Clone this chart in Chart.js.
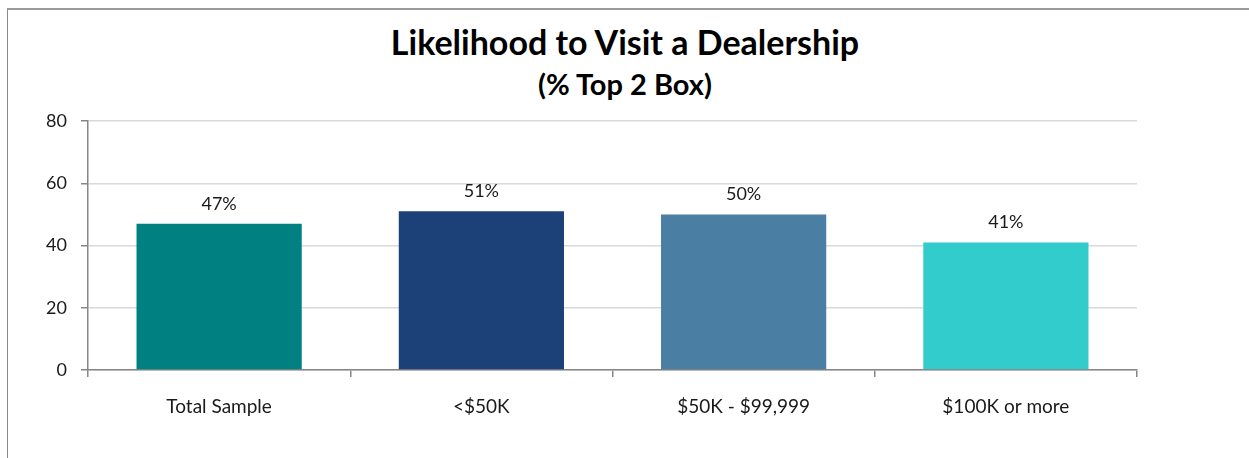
<!DOCTYPE html>
<html>
<head>
<meta charset="utf-8">
<script src="https://cdn.jsdelivr.net/npm/chart.js@4/dist/chart.umd.min.js"></script>
<style>
    body { margin: 0; background: #fff; width: 1249px; height: 458px; overflow: hidden; position: relative; font-family: Lato, sans-serif; }
    .frame { position: absolute; left: 7px; top: 8px; width: 1300px; height: 500px; border-left: 1px solid #8a8a8a; border-top: 2px solid #9a9a9a; }
    .titles { position: absolute; left: 0; width: 1250px; text-align: center; color: #000; font-weight: bold; }
    #title { top: 22px; font-size: 34px; line-height: 1.2; }
    #subtitle { top: 67px; font-size: 29px; line-height: 1.2; }
    canvas { position: absolute; left: 0; top: 0; }
</style>
</head>
<body>
<div class="frame"></div>
<div class="titles" id="title">Likelihood to Visit a Dealership</div>
<div class="titles" id="subtitle">(% Top 2 Box)</div>
<canvas id="visitChart" width="1249" height="458"></canvas>
<script>
const categories = ['Total Sample', '<$50K', '$50K - $99,999', '$100K or more'];
const top2Box = [47, 51, 50, 41];
const barColors = ['#008080', '#1c4178', '#4a7fa3', '#33cccc'];
const yTicks = [0, 20, 40, 60, 80];

const axisGray = '#868686';
const gridGray = '#d9d9d9';

// percent labels above each bar
const valueLabels = {
    id: 'valueLabels',
    afterDatasetsDraw(chart) {
        const ctx = chart.ctx;
        const meta = chart.getDatasetMeta(0);
        ctx.save();
        ctx.font = '18px Lato';
        ctx.fillStyle = '#1a1a1a';
        ctx.textAlign = 'center';
        ctx.textBaseline = 'alphabetic';
        meta.data.forEach((bar, i) => {
            ctx.fillText(top2Box[i] + '%', bar.x, bar.y - 14);
        });
        ctx.restore();
    }
};

const ctx = document.getElementById('visitChart').getContext('2d');
new Chart(ctx, {
    type: 'bar',
    data: {
        labels: categories,
        datasets: [{
            data: top2Box,
            backgroundColor: barColors,
            borderWidth: 0,
            categoryPercentage: 1,
            barPercentage: 0.63
        }]
    },
    options: {
        responsive: false,
        devicePixelRatio: 1,
        animation: false,
        layout: { padding: { left: 20, right: 112, top: 121, bottom: 40 } },
        plugins: {
            legend: { display: false },
            tooltip: { enabled: false }
        },
        scales: {
            x: {
                grid: {
                    offset: true,
                    drawOnChartArea: false,
                    tickLength: 7,
                    tickColor: axisGray,
                    lineWidth: 1.5
                },
                border: { color: axisGray, width: 1.5 },
                ticks: {
                    padding: 18,
                    color: '#1a1a1a',
                    font: { family: 'Lato', size: 19 }
                },
                afterFit(scale) { scale.height = 48; }
            },
            y: {
                min: 0,
                max: 80,
                afterBuildTicks(scale) { scale.ticks = yTicks.map(v => ({ value: v })); },
                grid: {
                    color: gridGray,
                    tickColor: axisGray,
                    tickLength: 7,
                    lineWidth: 1.5
                },
                border: { color: axisGray, width: 1.5 },
                ticks: {
                    padding: 14,
                    color: '#1a1a1a',
                    font: { family: 'Lato', size: 18 }
                },
                afterFit(scale) { scale.width = 68; }
            }
        }
    },
    plugins: [valueLabels]
});
</script>
</body>
</html>
